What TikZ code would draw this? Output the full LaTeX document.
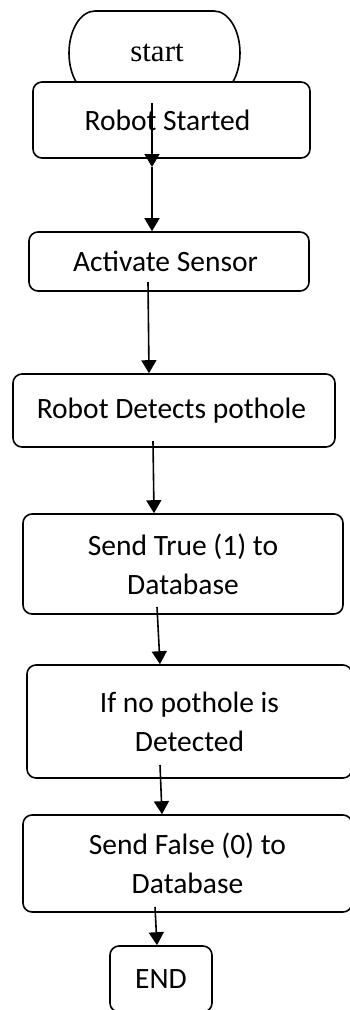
\documentclass[tikz,border=0pt]{standalone}
\usepackage{fontspec}
\setmainfont{Carlito}
\newfontfamily\termfont{Liberation Serif}
\usetikzlibrary{arrows.meta,calc}

\tikzset{
  stepbox/.style={draw, line width=1.6pt, rounded corners=9pt, fill=white,
    inner sep=0pt, align=center,
    font=\fontsize{29.5}{39}\selectfont},
  arr/.style={line width=1.6pt, -{Triangle[width=15pt,length=13pt]}},
}

\begin{document}
\begin{tikzpicture}[x=1pt, y=-1pt]
  \useasboundingbox (0,0) rectangle (350,1010);

  % terminal "start" (lower half sits behind the first step)
  \draw[line width=1.6pt] (95,11) -- (214,11)
    arc[start angle=90, end angle=-90, x radius=26pt, y radius=42pt]
    -- (95,95)
    arc[start angle=270, end angle=90, x radius=26pt, y radius=42pt] -- cycle;
  \node[font=\termfont\fontsize{31}{36}\selectfont] (start) at (157,53) {start};

  % process steps
  \node[stepbox, minimum width=277pt, minimum height=76pt] (robot) at (171.5,120) {Robot Started\hspace*{8pt}};
  \node[stepbox, minimum width=280pt, minimum height=59pt] (act) at (169,261.5) {Activate Sensor\hspace*{7pt}};
  \node[stepbox, minimum width=322pt, minimum height=73pt] (det) at (174,410.5) {Robot Detects pothole\hspace*{5pt}};
  \node[stepbox, minimum width=320pt, minimum height=100pt] (true) at (183,564) {Send True (1) to\\Database};
  \node[stepbox, minimum width=325pt, minimum height=113pt] (nopot) at (189.5,721.5) {If no pothole is\\Detected};
  \node[stepbox, minimum width=329pt, minimum height=97pt] (false) at (187.5,863.5) {Send False (0) to\\Database};
  \node[stepbox, minimum width=102pt, minimum height=66pt] (end) at (161,979) {END};

  % connector tails
  \coordinate (t1) at (152,103);
  \coordinate (m1) at (152,167);
  \coordinate (t2) at (148,282);
  \coordinate (t3) at (153,441);
  \coordinate (t4) at (157,607);
  \coordinate (t5) at (160,765);
  \coordinate (t6) at (155,907);

  % connectors
  \draw[arr] (t1) -- (m1);
  \draw[arr] (m1) -- (m1 |- act.north);
  \draw[arr] (t2) -- ([xshift=1pt]t2 |- det.north);
  \draw[arr] (t3) -- ([xshift=1pt]t3 |- true.north);
  \draw[arr] (t4) -- ([xshift=3pt]t4 |- nopot.north);
  \draw[arr] (t5) -- ([xshift=2pt]t5 |- false.north);
  \draw[arr] (t6) -- ([xshift=2pt]t6 |- end.north);
\end{tikzpicture}
\end{document}
